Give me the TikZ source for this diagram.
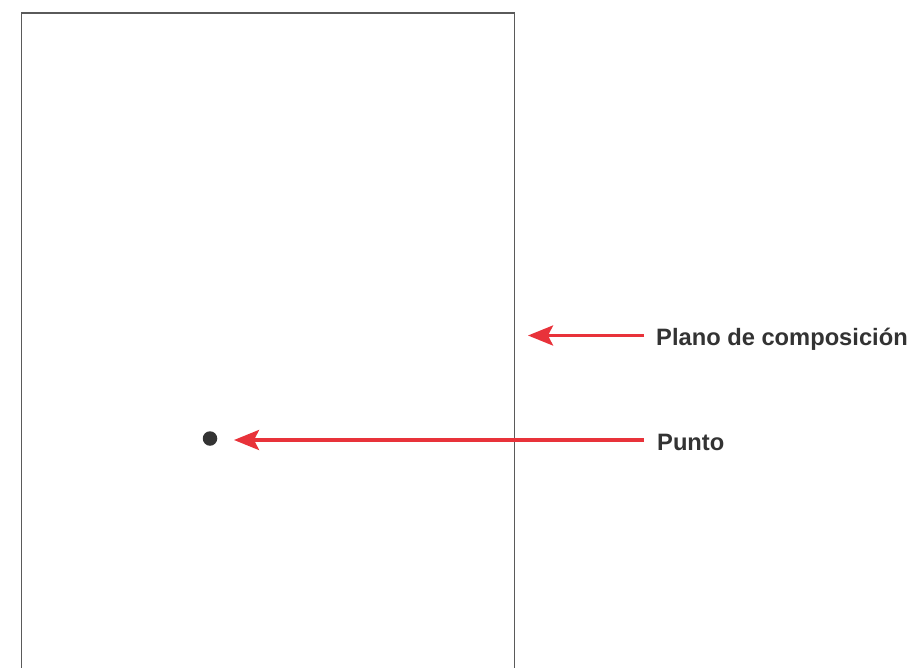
\documentclass[tikz,border=0pt]{standalone}
\usepackage{fontspec}
\setmainfont{Liberation Sans}
\usetikzlibrary{arrows.meta}
\definecolor{arrred}{RGB}{232,50,58}
\definecolor{txtgray}{RGB}{51,51,51}
\definecolor{framegray}{RGB}{90,90,90}
\tikzset{
  arr/.style={draw=arrred, line width=3.3pt, -{Stealth[length=25pt,width=20pt,inset=5pt]}},
  lbl/.style={inner sep=0pt, anchor=base west, text=txtgray, font=\fontsize{23.7}{28}\selectfont\bfseries},
  plane/.style={draw=framegray, line width=1.4pt},
  dotnode/.style={circle, fill=txtgray, inner sep=0pt, minimum size=14.5pt}
}
\begin{document}
\begin{tikzpicture}[x=1pt,y=-1pt]
\useasboundingbox (0,0) rectangle (916,667);
\fill[white] (0,0) rectangle (916,667);
\draw[plane] (21.5,670) -- (21.5,13) -- (514.5,13) -- (514.5,670);
\node[dotnode] (punto) at (210,438.5) {};
\node[lbl] (plano) at (656,345) {Plano de composición};
\node[lbl] (puntolbl) at (657,450.7) {Punto};
\coordinate (s1) at (644,335.5);
\coordinate (t1) at (528,335.5);
\coordinate (s2) at (644,440);
\coordinate (t2) at (234,440);
\draw[arr] (s1) -- (t1);
\draw[arr] (s2) -- (t2);
\end{tikzpicture}
\end{document}
